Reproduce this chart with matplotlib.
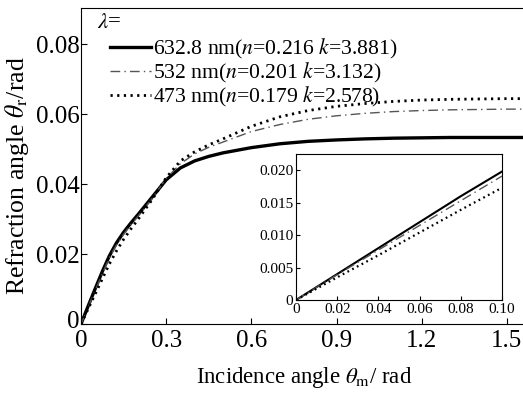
import matplotlib
matplotlib.use("Agg")
import matplotlib.pyplot as plt
import matplotlib.transforms as mtransforms

plt.rcParams['font.family'] = ['Liberation Serif', 'DejaVu Serif']
plt.rcParams['mathtext.fontset'] = 'stix'

# main plot data (incidence angle, rad)
x_main = [0, 0.025, 0.05, 0.075, 0.1, 0.125, 0.15, 0.175, 0.2, 0.25, 0.3, 0.35, 0.4,
          0.45, 0.5, 0.6, 0.7, 0.8, 0.9, 1.0, 1.1, 1.2, 1.3, 1.4, 1.5, 1.571]
y_633 = [0, 0.0051, 0.0101, 0.0150, 0.0195, 0.0232, 0.0262, 0.0288, 0.0312, 0.0362,
         0.0412, 0.0446, 0.0466, 0.0479, 0.0489, 0.0504, 0.0515, 0.0522, 0.0526,
         0.0529, 0.0531, 0.0532, 0.0533, 0.0533, 0.0533, 0.0533]
y_532 = [0, 0.0048, 0.0096, 0.0143, 0.0190, 0.0226, 0.0256, 0.0283, 0.0307, 0.0358,
         0.0416, 0.0458, 0.0486, 0.0505, 0.0520, 0.0550, 0.0570, 0.0585, 0.0595,
         0.0602, 0.0607, 0.0610, 0.0612, 0.0613, 0.0614, 0.0614]
y_473 = [0, 0.0043, 0.0086, 0.0129, 0.0172, 0.0209, 0.0242, 0.0271, 0.0298, 0.0355,
         0.0418, 0.0466, 0.0492, 0.0512, 0.0529, 0.0565, 0.0592, 0.0610, 0.0622,
         0.0630, 0.0636, 0.0640, 0.0642, 0.0643, 0.0644, 0.0644]

# inset data
x_in = [0, 0.02, 0.04, 0.06, 0.08, 0.10]
yin_633 = [0, 0.0040, 0.0080, 0.0120, 0.0160, 0.0198]
yin_532 = [0, 0.0039, 0.0077, 0.0115, 0.0153, 0.0191]
yin_473 = [0, 0.0035, 0.0069, 0.0104, 0.0139, 0.0173]

labels = [r'632.8 nm($n$=0.216 $k$=3.881)',
          r'532 nm($n$=0.201 $k$=3.132)',
          r'473 nm($n$=0.179 $k$=2.578)']
xticks = [0, 0.3, 0.6, 0.9, 1.2, 1.5]
xticklabels = ['0', '0.3', '0.6', '0.9', '1.2', '1.5']
yticks = [0, 0.02, 0.04, 0.06, 0.08]
yticklabels = ['0', '0.02', '0.04', '0.06', '0.08']
in_xticks = [0, 0.02, 0.04, 0.06, 0.08, 0.10]
in_xticklabels = ['0', '0.02', '0.04', '0.06', '0.08', '0.10']
in_yticks = [0, 0.005, 0.010, 0.015, 0.020]
in_yticklabels = ['0', '0.005', '0.010', '0.015', '0.020']

fig = plt.figure(figsize=(5.23, 3.96), dpi=100)
ax = fig.add_axes([0.1549, 0.1818, 0.853, 0.798])
ax.plot(x_main, y_633, color='black', lw=2.4, linestyle='-', label=labels[0])
ax.plot(x_main, y_532, color='#555555', lw=1.0, linestyle=(0, (7, 3, 1, 3)), label=labels[1])
ax.plot(x_main, y_473, color='black', lw=2.0, linestyle=(0, (0.8, 1.6)), label=labels[2])
ax.set_xlim(0, 1.571)
ax.set_ylim(0, 0.0903)
ax.set_xticks(xticks)
ax.set_xticklabels(xticklabels)
ax.set_yticks(yticks)
ax.set_yticklabels(yticklabels)
ax.tick_params(direction='in', labelsize=18, length=4, width=0.8)
ax.tick_params(axis='x', pad=4)
ax.tick_params(axis='y', pad=1)
# nudge the y "0" label up a little, as in the reference
lbl0 = ax.get_yticklabels()[0]
lbl0.set_transform(lbl0.get_transform() + mtransforms.ScaledTranslation(0, 5/100, fig.dpi_scale_trans))
for s in ax.spines.values():
    s.set_linewidth(0.8)
ax.set_xlabel(r'Incidence angle $\theta_{\rm m}$/ rad', fontsize=16.4, labelpad=10)
ax.set_ylabel(r'Refraction angle $\theta_{\rm r}$/rad', fontsize=18.5)
ax.yaxis.set_label_coords((31 - 81) / 446, (324 - 176) / 316)

fig.text(97/523, 1 - 22/396, r'$\lambda$=', fontsize=16.5, ha='left', va='center')
leg = ax.legend(loc='upper left', bbox_to_anchor=(110/523, 1 - 37/396),
                bbox_transform=fig.transFigure, frameon=False,
                fontsize=15.6, handlelength=1.9, handletextpad=0.1, labelspacing=0.0,
                borderaxespad=0.0, borderpad=0.0)

axin = fig.add_axes([0.566, 0.2424, 0.3939, 0.3687])
axin.plot(x_in, yin_633, color='black', lw=1.5, linestyle='-')
axin.plot(x_in, yin_532, color='#555555', lw=1.0, linestyle=(0, (7, 3, 1, 3)))
axin.plot(x_in, yin_473, color='black', lw=1.6, linestyle=(0, (0.8, 1.6)))
axin.set_xlim(0, 0.10)
axin.set_ylim(0, 0.0225)
axin.set_xticks(in_xticks)
axin.set_xticklabels(in_xticklabels)
axin.set_yticks(in_yticks)
axin.set_yticklabels(in_yticklabels)
axin.tick_params(direction='in', labelsize=11, length=3, pad=2, width=0.8)
for s in axin.spines.values():
    s.set_linewidth(0.8)

fig.savefig('out.png', dpi=100)
